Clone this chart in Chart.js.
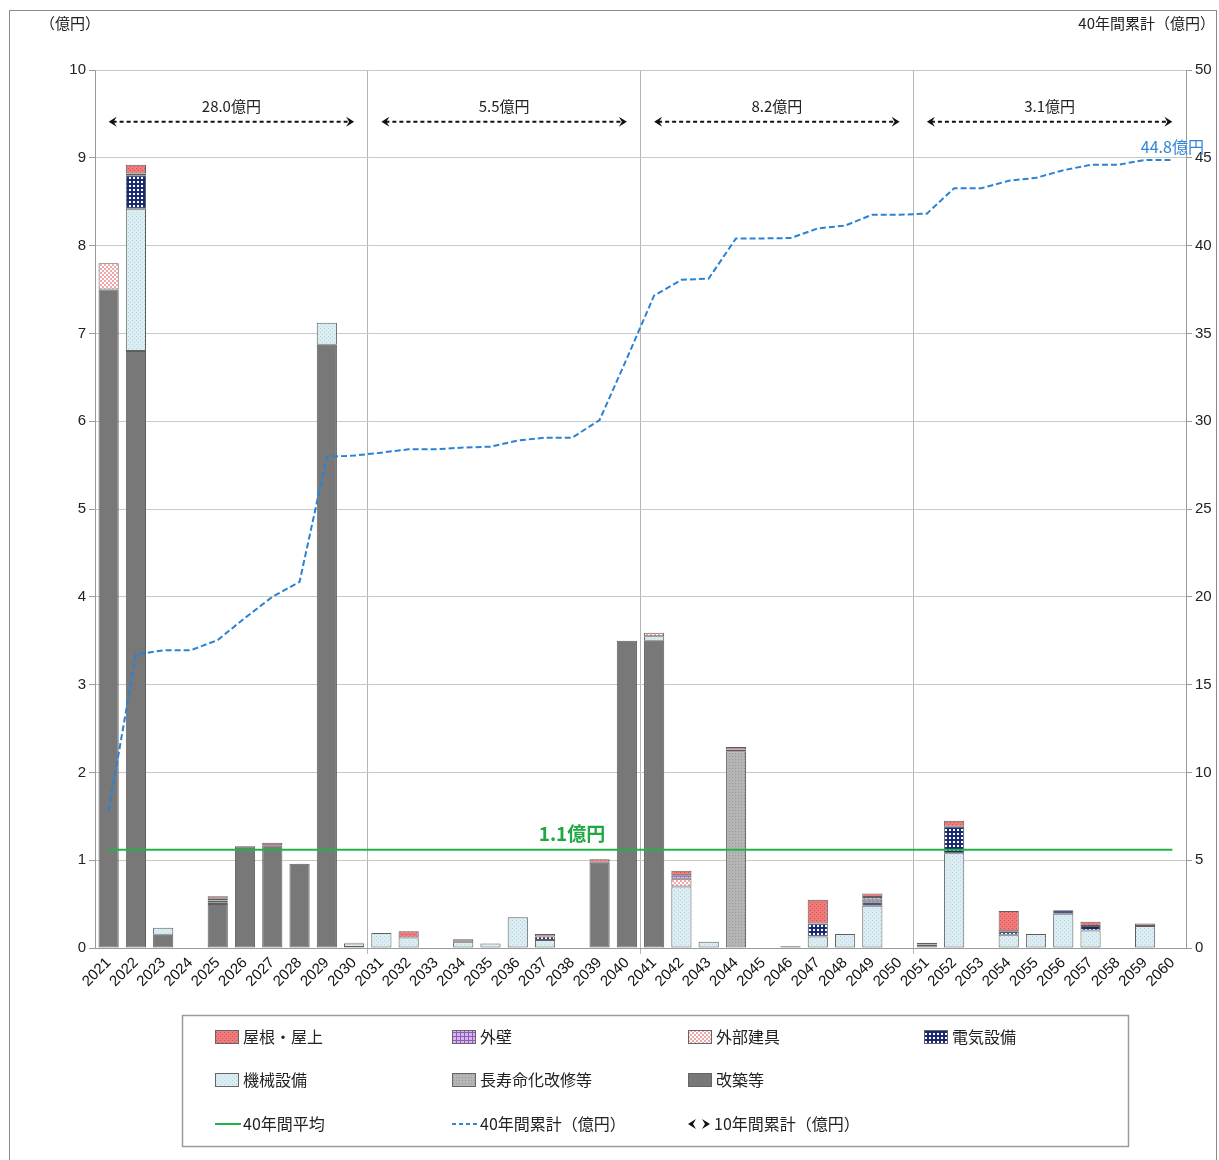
<!DOCTYPE html>
<html>
<head>
<meta charset="utf-8">
<script src="https://cdn.jsdelivr.net/npm/chart.js@4.4.1/dist/chart.umd.min.js"></script>
<style>
html, body { margin: 0; padding: 0; background: #fff; }
#wrap { width: 1219px; height: 1160px; }
</style>
</head>
<body>
<div id="wrap"><canvas id="chart" width="1219" height="1160"></canvas></div>
<script>
// ---------- data (億円) ----------
const years = ['2021','2022','2023','2024','2025','2026','2027','2028','2029','2030',
               '2031','2032','2033','2034','2035','2036','2037','2038','2039','2040',
               '2041','2042','2043','2044','2045','2046','2047','2048','2049','2050',
               '2051','2052','2053','2054','2055','2056','2057','2058','2059','2060'];

const rebuild    = [7.50, 6.80, 0.15, 0, 0.50, 1.16, 1.17, 0.96, 6.87, 0.01,
                    0, 0, 0, 0, 0, 0, 0, 0, 0.97, 3.50,
                    3.50, 0, 0, 0, 0, 0, 0, 0, 0, 0,
                    0, 0, 0, 0, 0, 0, 0, 0, 0, 0];
const longLife   = [0, 0, 0, 0, 0, 0, 0, 0, 0, 0,
                    0, 0, 0, 0, 0, 0, 0, 0, 0, 0,
                    0, 0, 0, 2.24, 0, 0, 0, 0, 0, 0,
                    0, 0, 0, 0, 0, 0, 0, 0, 0, 0];
const mechanical = [0, 1.62, 0.08, 0, 0.02, 0, 0, 0, 0.25, 0.04,
                    0.17, 0.12, 0, 0.07, 0.05, 0.35, 0.09, 0, 0, 0,
                    0.05, 0.70, 0.07, 0.02, 0, 0, 0.13, 0.16, 0.48, 0,
                    0.02, 1.08, 0, 0.15, 0.16, 0.39, 0.20, 0, 0.25, 0];
const electric   = [0, 0.38, 0, 0, 0.02, 0, 0, 0, 0, 0.01,
                    0, 0, 0, 0, 0, 0, 0.04, 0, 0, 0,
                    0, 0, 0, 0, 0, 0, 0.15, 0, 0.04, 0,
                    0, 0.30, 0, 0.04, 0, 0.04, 0.05, 0, 0, 0];
const fittings   = [0.30, 0.02, 0, 0, 0, 0, 0, 0, 0, 0,
                    0, 0, 0, 0, 0, 0, 0, 0, 0, 0,
                    0.04, 0.09, 0, 0, 0, 0, 0, 0, 0.03, 0,
                    0.02, 0, 0, 0, 0, 0, 0, 0, 0, 0];
const walls      = [0, 0, 0, 0, 0.02, 0, 0, 0, 0, 0,
                    0, 0, 0, 0, 0, 0, 0, 0, 0, 0,
                    0, 0.04, 0, 0, 0, 0, 0, 0, 0.03, 0,
                    0, 0, 0, 0, 0, 0, 0, 0, 0, 0];
const roof       = [0, 0.10, 0, 0, 0.03, 0, 0.03, 0, 0, 0,
                    0, 0.07, 0, 0.03, 0, 0, 0.03, 0, 0.04, 0,
                    0, 0.05, 0, 0.03, 0, 0.02, 0.27, 0, 0.04, 0,
                    0.02, 0.07, 0, 0.23, 0, 0, 0.05, 0, 0.03, 0];

// 40年間累計 (right axis)
const cumulative = [7.80, 16.72, 16.95, 16.95, 17.54, 18.80, 20.00, 20.85, 27.98, 28.04,
                    28.21, 28.40, 28.40, 28.50, 28.55, 28.90, 29.06, 29.06, 30.07, 33.57,
                    37.16, 38.05, 38.12, 40.41, 40.41, 40.43, 40.98, 41.14, 41.76, 41.76,
                    41.82, 43.27, 43.27, 43.69, 43.86, 44.29, 44.60, 44.60, 44.88, 44.88];

const average = 1.12;
const averageLabel = '1.1億円';
const totalLabel = '44.8億円';
const decadeLabels = ['28.0億円', '5.5億円', '8.2億円', '3.1億円'];
const decadeArrowLevel = 9.41;

// ---------- patterns ----------
function makePattern(size, bg, fg, dots) {
    const c = document.createElement('canvas');
    c.width = c.height = size;
    const g = c.getContext('2d');
    g.fillStyle = bg;
    g.fillRect(0, 0, size, size);
    g.fillStyle = fg;
    dots.forEach(d => g.fillRect(d[0], d[1], d[2], d[3]));
    return g.createPattern(c, 'repeat');
}

const fills = {
    roof:     makePattern(4, '#f07a7a', '#d55252', [[0,0,1,1],[2,2,1,1]]),
    walls:    makePattern(4, '#d7b6ee', '#8a5cb8', [[0,0,4,1],[0,0,1,4]]),
    fittings: makePattern(4, '#ffffff', '#f0a6a6', [[0,0,2,2],[2,2,2,2]]),
    electric: makePattern(4, '#1c2a70', '#ffffff', [[1,1,2,2]]),
    mech:     makePattern(4, '#d9edf3', '#bfd6de', [[0,0,1,1],[2,2,1,1]]),
    longLife: makePattern(3, '#b5b5b5', '#989898', [[0,0,1,1]]),
    rebuild:  '#787878'
};

const FONT = "'Liberation Sans', 'Noto Sans CJK JP', sans-serif";
const JP = "'Noto Sans CJK JP', sans-serif";

function barSet(label, data, fill) {
    return {
        type: 'bar',
        label: label,
        data: data,
        backgroundColor: fill,
        borderColor: '#5e5e5e',
        borderWidth: c => (c.raw ? 1 : 0),
        borderSkipped: false,
        barPercentage: 0.74,
        categoryPercentage: 1,
        yAxisID: 'y',
        order: 2
    };
}

// ---------- extra drawing ----------
const extras = {
    id: 'extras',
    afterDatasetsDraw(chart) {
        const ctx = chart.ctx;
        const x = chart.scales.x, y = chart.scales.y, y2 = chart.scales.y2;

        // 40年間平均
        const ay = y.getPixelForValue(average);
        ctx.save();
        ctx.strokeStyle = '#1fb34a';
        ctx.lineWidth = 2;
        ctx.beginPath();
        ctx.moveTo(x.getPixelForValue(0), ay);
        ctx.lineTo(x.getPixelForValue(years.length - 1), ay);
        ctx.stroke();
        ctx.fillStyle = '#1fa844';
        ctx.font = 'bold 19px ' + JP;
        ctx.textAlign = 'center';
        ctx.textBaseline = 'bottom';
        ctx.fillText(averageLabel, 572, ay - 6);

        // 10年間累計 arrows
        const py = y.getPixelForValue(decadeArrowLevel);
        decadeLabels.forEach((t, d) => {
            const x1 = x.getPixelForValue(d * 10);
            const x2 = x.getPixelForValue(d * 10 + 9);
            ctx.strokeStyle = '#111';
            ctx.lineWidth = 2;
            ctx.setLineDash([4, 3]);
            ctx.beginPath();
            ctx.moveTo(x1 + 4, py);
            ctx.lineTo(x2 - 4, py);
            ctx.stroke();
            ctx.setLineDash([]);
            ctx.fillStyle = '#111';
            [[x1, 1], [x2, -1]].forEach(a => {
                ctx.beginPath();
                ctx.moveTo(a[0], py);
                ctx.lineTo(a[0] + a[1] * 8, py - 5);
                ctx.lineTo(a[0] + a[1] * 5, py);
                ctx.lineTo(a[0] + a[1] * 8, py + 5);
                ctx.closePath();
                ctx.fill();
            });
            ctx.fillStyle = '#222';
            ctx.font = '15px ' + JP;
            ctx.textAlign = 'center';
            ctx.textBaseline = 'bottom';
            ctx.fillText(t, (x1 + x2) / 2, py - 8);
        });

        // total label
        const lx = x.getPixelForValue(years.length - 1);
        const ly = y2.getPixelForValue(cumulative[cumulative.length - 1]);
        ctx.fillStyle = '#2f86d6';
        ctx.font = '16px ' + JP;
        ctx.textAlign = 'center';
        ctx.textBaseline = 'bottom';
        ctx.fillText(totalLabel, lx, ly - 5);
        ctx.restore();
    },
    afterDraw(chart) {
        const ctx = chart.ctx;
        ctx.save();
        // outer frame
        ctx.strokeStyle = '#8a8a8a';
        ctx.lineWidth = 1;
        ctx.strokeRect(9.5, 10.5, 1207, 1160);

        ctx.fillStyle = '#222';
        ctx.font = '15px ' + JP;
        ctx.textBaseline = 'middle';
        ctx.textAlign = 'left';
        ctx.fillText('（億円）', 40, 23);
        ctx.textAlign = 'right';
        ctx.fillText('40年間累計（億円）', 1215, 23);

        // legend box
        ctx.strokeStyle = '#9a9a9a';
        ctx.lineWidth = 1.5;
        ctx.strokeRect(182.5, 1015.5, 946, 131);

        const cols = [215, 452, 688, 924];
        const rows = [1037, 1080, 1124];
        const items = [
            ['屋根・屋上', fills.roof], ['外壁', fills.walls], ['外部建具', fills.fittings], ['電気設備', fills.electric],
            ['機械設備', fills.mech], ['長寿命化改修等', fills.longLife], ['改築等', fills.rebuild]
        ];
        ctx.font = '16px ' + JP;
        ctx.textAlign = 'left';
        items.forEach((it, i) => {
            const cx = cols[i % 4], cy = rows[Math.floor(i / 4)];
            ctx.fillStyle = it[1];
            ctx.fillRect(cx, cy - 7, 24, 14);
            ctx.strokeStyle = '#666';
            ctx.lineWidth = 1;
            ctx.strokeRect(cx + 0.5, cy - 6.5, 23, 13);
            ctx.fillStyle = '#222';
            ctx.fillText(it[0], cx + 28, cy);
        });
        // line items
        const r3 = rows[2];
        ctx.strokeStyle = '#1fb34a';
        ctx.lineWidth = 2;
        ctx.beginPath();
        ctx.moveTo(cols[0], r3); ctx.lineTo(cols[0] + 26, r3); ctx.stroke();
        ctx.fillStyle = '#222';
        ctx.fillText('40年間平均', cols[0] + 28, r3);

        ctx.strokeStyle = '#2f86d6';
        ctx.setLineDash([4, 3]);
        ctx.beginPath();
        ctx.moveTo(cols[1], r3); ctx.lineTo(cols[1] + 26, r3); ctx.stroke();
        ctx.setLineDash([]);
        ctx.fillText('40年間累計（億円）', cols[1] + 28, r3);

        ctx.fillStyle = '#111';
        [[cols[2], 1], [cols[2] + 22, -1]].forEach(a => {
            ctx.beginPath();
            ctx.moveTo(a[0], r3);
            ctx.lineTo(a[0] + a[1] * 8, r3 - 5);
            ctx.lineTo(a[0] + a[1] * 5, r3);
            ctx.lineTo(a[0] + a[1] * 8, r3 + 5);
            ctx.closePath();
            ctx.fill();
        });
        ctx.fillStyle = '#222';
        ctx.fillText('10年間累計（億円）', cols[2] + 26, r3);
        ctx.restore();
    }
};

// ---------- chart ----------
const decadeGrid = c => (c.index % 10 === 0 && c.index > 0 && c.index < years.length) ? '#b5b5b5' : 'rgba(0,0,0,0)';

new Chart(document.getElementById('chart'), {
    data: {
        labels: years,
        datasets: [
            barSet('改築等', rebuild, fills.rebuild),
            barSet('長寿命化改修等', longLife, fills.longLife),
            barSet('機械設備', mechanical, fills.mech),
            barSet('電気設備', electric, fills.electric),
            barSet('外部建具', fittings, fills.fittings),
            barSet('外壁', walls, fills.walls),
            barSet('屋根・屋上', roof, fills.roof),
            {
                type: 'line',
                label: '40年間累計（億円）',
                data: cumulative,
                yAxisID: 'y2',
                borderColor: '#2a82d4',
                borderWidth: 2,
                borderDash: [6, 3],
                pointRadius: 0,
                tension: 0,
                fill: false,
                order: 1
            }
        ]
    },
    options: {
        responsive: false,
        animation: false,
        layout: { padding: { left: 40, right: 0, top: 70, bottom: 152 } },
        plugins: {
            legend: { display: false },
            tooltip: { enabled: false }
        },
        scales: {
            x: {
                stacked: true,
                offset: true,
                grid: { color: decadeGrid, tickColor: decadeGrid, tickLength: 6, offset: true },
                border: { color: '#9a9a9a' },
                ticks: {
                    autoSkip: false,
                    minRotation: 45,
                    maxRotation: 45,
                    padding: 0,
                    color: '#111',
                    font: { family: FONT, size: 15 }
                },
                afterFit: s => { s.height = 60; }
            },
            y: {
                stacked: true,
                min: 0,
                max: 10,
                grid: { color: '#c9c9c9', tickColor: '#9a9a9a', tickLength: 6 },
                border: { color: '#9a9a9a' },
                ticks: { stepSize: 1, color: '#222', font: { family: FONT, size: 15 } },
                afterFit: s => { s.width = 55; }
            },
            y2: {
                position: 'right',
                min: 0,
                max: 50,
                grid: { drawOnChartArea: false, tickColor: '#9a9a9a', tickLength: 6 },
                border: { color: '#9a9a9a' },
                ticks: { stepSize: 5, color: '#222', font: { family: FONT, size: 15 } },
                afterFit: s => { s.width = 33; }
            }
        }
    },
    plugins: [extras]
});
</script>
</body>
</html>
